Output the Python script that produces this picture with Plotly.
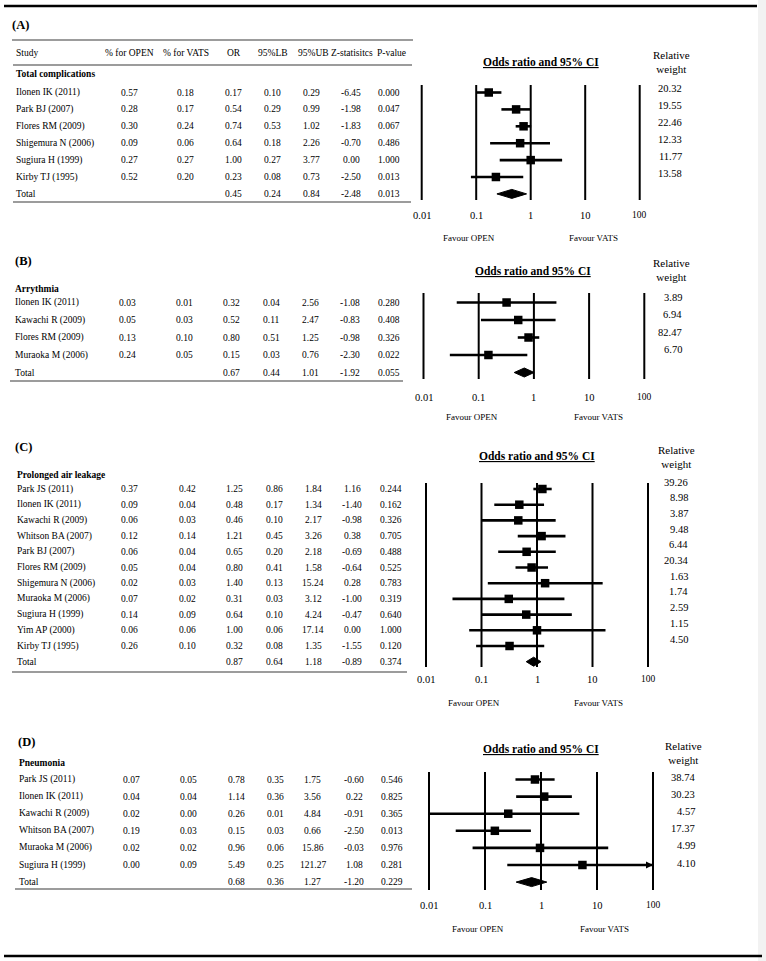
import math
import plotly.graph_objects as go

W, H = 766, 961
FONT = "Liberation Serif, Times New Roman, serif"

# ---------------- data ----------------
TICKS = [0.01, 0.1, 1, 10, 100]
TICK_LABELS = ["0.01", "0.1", "1", "10", "100"]
HEADERS = ["Study", "% for OPEN", "% for VATS", "OR", "95%LB", "95%UB", "Z-statisitcs", "P-value"]

A_title = "Total complications"
A_studies = ["Ilonen IK (2011)", "Park BJ (2007)", "Flores RM (2009)", "Shigemura N (2006)",
             "Sugiura H (1999)", "Kirby TJ (1995)"]
A_open = [0.57, 0.28, 0.30, 0.09, 0.27, 0.52]
A_vats = [0.18, 0.17, 0.24, 0.06, 0.27, 0.20]
A_or = [0.17, 0.54, 0.74, 0.64, 1.00, 0.23]
A_lb = [0.10, 0.29, 0.53, 0.18, 0.27, 0.08]
A_ub = [0.29, 0.99, 1.02, 2.26, 3.77, 0.73]
A_z = [-6.45, -1.98, -1.83, -0.70, 0.00, -2.50]
A_p = [0.000, 0.047, 0.067, 0.486, 1.000, 0.013]
A_weight = [20.32, 19.55, 22.46, 12.33, 11.77, 13.58]
A_total = [0.45, 0.24, 0.84, -2.48, 0.013]

B_title = "Arrythmia"
B_studies = ["Ilonen IK (2011)", "Kawachi R (2009)", "Flores RM (2009)", "Muraoka M (2006)"]
B_open = [0.03, 0.05, 0.13, 0.24]
B_vats = [0.01, 0.03, 0.10, 0.05]
B_or = [0.32, 0.52, 0.80, 0.15]
B_lb = [0.04, 0.11, 0.51, 0.03]
B_ub = [2.56, 2.47, 1.25, 0.76]
B_z = [-1.08, -0.83, -0.98, -2.30]
B_p = [0.280, 0.408, 0.326, 0.022]
B_weight = [3.89, 6.94, 82.47, 6.70]
B_total = [0.67, 0.44, 1.01, -1.92, 0.055]

C_title = "Prolonged air leakage"
C_studies = ["Park JS (2011)", "Ilonen IK (2011)", "Kawachi R (2009)", "Whitson BA (2007)",
             "Park BJ (2007)", "Flores RM (2009)", "Shigemura N (2006)", "Muraoka M (2006)",
             "Sugiura H (1999)", "Yim AP (2000)", "Kirby TJ (1995)"]
C_open = [0.37, 0.09, 0.06, 0.12, 0.06, 0.05, 0.02, 0.07, 0.14, 0.06, 0.26]
C_vats = [0.42, 0.04, 0.03, 0.14, 0.04, 0.04, 0.03, 0.02, 0.09, 0.06, 0.10]
C_or = [1.25, 0.48, 0.46, 1.21, 0.65, 0.80, 1.40, 0.31, 0.64, 1.00, 0.32]
C_lb = [0.86, 0.17, 0.10, 0.45, 0.20, 0.41, 0.13, 0.03, 0.10, 0.06, 0.08]
C_ub = [1.84, 1.34, 2.17, 3.26, 2.18, 1.58, 15.24, 3.12, 4.24, 17.14, 1.35]
C_z = [1.16, -1.40, -0.98, 0.38, -0.69, -0.64, 0.28, -1.00, -0.47, 0.00, -1.55]
C_p = [0.244, 0.162, 0.326, 0.705, 0.488, 0.525, 0.783, 0.319, 0.640, 1.000, 0.120]
C_weight = [39.26, 8.98, 3.87, 9.48, 6.44, 20.34, 1.63, 1.74, 2.59, 1.15, 4.50]
C_total = [0.87, 0.64, 1.18, -0.89, 0.374]

D_title = "Pneumonia"
D_studies = ["Park JS (2011)", "Ilonen IK (2011)", "Kawachi R (2009)", "Whitson BA (2007)",
             "Muraoka M (2006)", "Sugiura H (1999)"]
D_open = [0.07, 0.04, 0.02, 0.19, 0.02, 0.00]
D_vats = [0.05, 0.04, 0.00, 0.03, 0.02, 0.09]
D_or = [0.78, 1.14, 0.26, 0.15, 0.96, 5.49]
D_lb = [0.35, 0.36, 0.01, 0.03, 0.06, 0.25]
D_ub = [1.75, 3.56, 4.84, 0.66, 15.86, 121.27]
D_z = [-0.60, 0.22, -0.91, -2.50, -0.03, 1.08]
D_p = [0.546, 0.825, 0.365, 0.013, 0.976, 0.281]
D_weight = [38.74, 30.23, 4.57, 17.37, 4.99, 4.10]
D_total = [0.68, 0.36, 1.27, -1.20, 0.229]

PANELS = [
    dict(label="(A)", title=A_title, studies=A_studies, open=A_open, vats=A_vats, orr=A_or, lb=A_lb,
         ub=A_ub, z=A_z, p=A_p, w=A_weight, total=A_total),
    dict(label="(B)", title=B_title, studies=B_studies, open=B_open, vats=B_vats, orr=B_or, lb=B_lb,
         ub=B_ub, z=B_z, p=B_p, w=B_weight, total=B_total),
    dict(label="(C)", title=C_title, studies=C_studies, open=C_open, vats=C_vats, orr=C_or, lb=C_lb,
         ub=C_ub, z=C_z, p=C_p, w=C_weight, total=C_total),
    dict(label="(D)", title=D_title, studies=D_studies, open=D_open, vats=D_vats, orr=D_or, lb=D_lb,
         ub=D_ub, z=D_z, p=D_p, w=D_weight, total=D_total),
]

# ---------------- layout (pixel geometry) ----------------
LAYOUT = [
    dict(y0=92.5, dy=16.9, x001=421.7, dec=54.5, vtop=85, vbot=200, tick_y=215, fav_y=238,
         fav_x=(469, 593), title_xy=(541, 62), rw_xy=(671, 62), w_right=684, w_shift=-4,
         label_xy=(10, 25), group_xy=(14, 74), name_x=14,
         cols=[129, 185, 233, 272.5, 311.5, 351, 389],
         header=dict(y=53, cols=[129.5, 186, 234, 273, 313, 352, 391]),
         rules=[(40, 12, 413), (65, 13, 412), (202, 13, 411)]),
    dict(y0=302.5, dy=17.5, x001=423.5, dec=55.2, vtop=293, vbot=379, tick_y=397, fav_y=417,
         fav_x=(472, 598), title_xy=(533, 271), rw_xy=(671, 269.5), w_right=684, w_shift=-5.5,
         label_xy=(13, 261), group_xy=(12.5, 289), name_x=12.5,
         cols=[127, 184, 231.5, 271, 310, 350, 389],
         header=None, rules=[(381, 10, 403)]),
    dict(y0=489, dy=15.7, x001=426, dec=55.5, vtop=483, vbot=667, tick_y=679, fav_y=703,
         fav_x=(474, 598), title_xy=(537, 456), rw_xy=(676, 457.5), w_right=690, w_shift=-7,
         label_xy=(13, 447), group_xy=(15, 475), name_x=15,
         cols=[129, 187, 234, 274, 313, 352, 391],
         header=None, rules=[(672, 12, 407)]),
    dict(y0=779.5, dy=17.1, x001=429, dec=56, vtop=772, vbot=890, tick_y=905, fav_y=929,
         fav_x=(478, 604), title_xy=(541, 749), rw_xy=(683, 752.5), w_right=697, w_shift=-2,
         label_xy=(16, 742), group_xy=(17, 763), name_x=17,
         cols=[131, 188, 236.5, 275.5, 312.5, 354, 392],
         header=None, rules=[(889, 15, 412)]),
]


def pxx(px):
    return px / W


def pxy(py):
    return 1 - py / H


fig = go.Figure()
annotations = []
shapes = []
axes = {}

for k, (P, L) in enumerate(zip(PANELS, LAYOUT), start=1):
    xa = "x" if k == 1 else f"x{k}"
    ya = "y" if k == 1 else f"y{k}"
    y0, dy = L["y0"], L["dy"]

    def row(py, y0=y0, dy=dy):
        return (py - y0) / dy

    lo = -2 - L["x001"] / L["dec"]
    hi = -2 + (W - L["x001"]) / L["dec"]
    xax = dict(type="log", range=[lo, hi], domain=[0, 1], visible=False, fixedrange=True)
    yax = dict(range=[(H - y0) / dy, -y0 / dy], domain=[0, 1], visible=False, fixedrange=True)
    if k > 1:
        xax["overlaying"] = "x"
        yax["overlaying"] = "y"
    axes["xaxis" if k == 1 else f"xaxis{k}"] = xax
    axes["yaxis" if k == 1 else f"yaxis{k}"] = yax

    n = len(P["studies"])
    rows = list(range(n))
    trow = n

    # vertical reference lines
    vx, vy = [], []
    for t in TICKS:
        vx += [t, t, None]
        vy += [row(L["vtop"]), row(L["vbot"]), None]
    fig.add_trace(go.Scatter(x=vx, y=vy, mode="lines", line=dict(color="black", width=2),
                             xaxis=xa, yaxis=ya, hoverinfo="skip", showlegend=False))
    # CI lines
    cx, cy = [], []
    for r, lb, ub in zip(rows, P["lb"], P["ub"]):
        cx += [lb, min(ub, TICKS[-1]), None]
        cy += [r, r, None]
    fig.add_trace(go.Scatter(x=cx, y=cy, mode="lines", line=dict(color="black", width=2.6),
                             xaxis=xa, yaxis=ya, hoverinfo="skip", showlegend=False))
    # arrows for CIs beyond the axis
    for r, ub in zip(rows, P["ub"]):
        if ub > TICKS[-1]:
            annotations.append(dict(x=math.log10(TICKS[-1]), y=r, xref=xa, yref=ya, text="",
                                    showarrow=True, ax=-10, ay=0, arrowhead=2, arrowsize=1,
                                    arrowwidth=1.4, arrowcolor="black", standoff=0))
    # squares
    fig.add_trace(go.Scatter(x=P["orr"], y=rows, mode="markers",
                             marker=dict(symbol="square", size=8.5, color="black"),
                             xaxis=xa, yaxis=ya, hoverinfo="skip", showlegend=False))
    # diamond
    tor, tlb, tub = P["total"][:3]
    h = 4.5 / dy
    fig.add_trace(go.Scatter(x=[tlb, tor, tub, tor, tlb], y=[trow, trow - h, trow, trow + h, trow],
                             mode="lines", fill="toself", fillcolor="black",
                             line=dict(color="black", width=1),
                             xaxis=xa, yaxis=ya, hoverinfo="skip", showlegend=False))

    # tick labels
    for t, lab in zip(TICKS, TICK_LABELS):
        annotations.append(dict(x=math.log10(t), y=row(L["tick_y"]), xref=xa, yref=ya, text=lab,
                                showarrow=False, xanchor="center", yanchor="middle",
                                font=dict(family=FONT, size=9.5 if lab == "100" else 10.5,
                                          color="black")))
    # favour labels
    for fx, ftxt in zip(L["fav_x"], ["Favour OPEN", "Favour VATS"]):
        annotations.append(dict(x=pxx(fx), y=pxy(L["fav_y"]), xref="paper", yref="paper",
                                text=ftxt, showarrow=False, xanchor="center", yanchor="middle",
                                font=dict(family=FONT, size=9, color="black")))
    # forest title
    annotations.append(dict(x=pxx(L["title_xy"][0]), y=pxy(L["title_xy"][1]), xref="paper",
                            yref="paper", text="<b><u>Odds ratio and 95% CI</u></b>",
                            showarrow=False, xanchor="center", yanchor="middle",
                            font=dict(family=FONT, size=11.5, color="black")))
    annotations.append(dict(x=pxx(L["rw_xy"][0]), y=pxy(L["rw_xy"][1]), xref="paper",
                            yref="paper", text="Relative<br>weight", showarrow=False,
                            xanchor="center", yanchor="middle",
                            font=dict(family=FONT, size=11, color="black")))
    # relative weights
    for r, wv in zip(rows, P["w"]):
        annotations.append(dict(x=pxx(L["w_right"]), y=r, xref="paper", yref=ya, text=f"{wv:.2f}",
                                showarrow=False, xanchor="right", yanchor="middle",
                                yshift=-L["w_shift"],
                                font=dict(family=FONT, size=10.5, color="black")))

    # panel label and group title
    annotations.append(dict(x=pxx(L["label_xy"][0]), y=pxy(L["label_xy"][1]), xref="paper",
                            yref="paper", text=f"<b>{P['label']}</b>", showarrow=False,
                            xanchor="left", yanchor="middle",
                            font=dict(family=FONT, size=12.5, color="black")))
    annotations.append(dict(x=pxx(L["group_xy"][0]), y=pxy(L["group_xy"][1]), xref="paper",
                            yref="paper", text=f"<b>{P['title']}</b>", showarrow=False,
                            xanchor="left", yanchor="middle",
                            font=dict(family=FONT, size=9.5, color="black")))
    # header row
    if L["header"] is not None:
        hy = pxy(L["header"]["y"])
        annotations.append(dict(x=pxx(L["name_x"]), y=hy, xref="paper", yref="paper",
                                text=HEADERS[0], showarrow=False, xanchor="left",
                                yanchor="middle", font=dict(family=FONT, size=9.5, color="black")))
        for hx, ht in zip(L["header"]["cols"], HEADERS[1:]):
            annotations.append(dict(x=pxx(hx), y=hy, xref="paper", yref="paper", text=ht,
                                    showarrow=False, xanchor="center", yanchor="middle",
                                    font=dict(family=FONT, size=9.5, color="black")))

    # table body
    cell_font = dict(family=FONT, size=9.5, color="black")
    for i in rows:
        annotations.append(dict(x=pxx(L["name_x"]), y=i, xref="paper", yref=ya,
                                text=P["studies"][i], showarrow=False, xanchor="left",
                                yanchor="middle", font=cell_font))
        vals = [f"{P['open'][i]:.2f}", f"{P['vats'][i]:.2f}", f"{P['orr'][i]:.2f}",
                f"{P['lb'][i]:.2f}", f"{P['ub'][i]:.2f}", f"{P['z'][i]:.2f}", f"{P['p'][i]:.3f}"]
        for cxp, v in zip(L["cols"], vals):
            annotations.append(dict(x=pxx(cxp), y=i, xref="paper", yref=ya, text=v,
                                    showarrow=False, xanchor="center", yanchor="middle",
                                    font=cell_font))
    annotations.append(dict(x=pxx(L["name_x"]), y=trow, xref="paper", yref=ya, text="Total",
                            showarrow=False, xanchor="left", yanchor="middle", font=cell_font))
    tvals = [f"{P['total'][0]:.2f}", f"{P['total'][1]:.2f}", f"{P['total'][2]:.2f}",
             f"{P['total'][3]:.2f}", f"{P['total'][4]:.3f}"]
    for cxp, v in zip(L["cols"][2:], tvals):
        annotations.append(dict(x=pxx(cxp), y=trow, xref="paper", yref=ya, text=v,
                                showarrow=False, xanchor="center", yanchor="middle",
                                font=cell_font))

    # table rules
    for ry, rx0, rx1 in L["rules"]:
        shapes.append(dict(type="line", xref="paper", yref="paper", x0=pxx(rx0), x1=pxx(rx1),
                           y0=pxy(ry), y1=pxy(ry), line=dict(color="#3a3a3a", width=1.2)))

# outer thick rules and right border band
shapes.append(dict(type="line", xref="paper", yref="paper", x0=pxx(4), x1=pxx(757),
                   y0=pxy(6), y1=pxy(6), line=dict(color="black", width=2.5)))
shapes.append(dict(type="line", xref="paper", yref="paper", x0=pxx(4), x1=pxx(762),
                   y0=pxy(956), y1=pxy(956), line=dict(color="black", width=2.5)))
shapes.append(dict(type="rect", xref="paper", yref="paper", x0=pxx(758), x1=1, y0=0, y1=1,
                   fillcolor="#f2f2f2", line=dict(width=0), layer="below"))

fig.update_layout(
    width=W, height=H,
    margin=dict(l=0, r=0, t=0, b=0),
    paper_bgcolor="white", plot_bgcolor="rgba(0,0,0,0)",
    showlegend=False, hovermode=False,
    annotations=annotations, shapes=shapes,
    **axes,
)

fig.write_html("out.html", config={"displayModeBar": False},
               post_script="document.body.style.margin='0';")
